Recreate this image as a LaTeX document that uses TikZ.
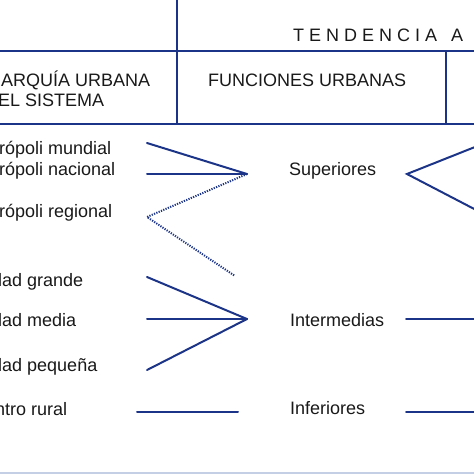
\documentclass[tikz,border=0pt]{standalone}
\usepackage{fontspec}
\setmainfont{Liberation Sans}
\definecolor{lineblue}{RGB}{28,52,135}
\definecolor{txt}{RGB}{25,25,25}
\definecolor{band}{RGB}{196,206,228}
\begin{document}
\begin{tikzpicture}[x=1pt,y=-1pt,
  lbl/.style={inner sep=0pt,anchor=base west,font=\fontsize{18}{20}\selectfont,text=txt},
  lble/.style={lbl,anchor=base east},
  rule/.style={draw=lineblue,line width=2.2pt},
  link/.style={draw=lineblue,line width=2pt,line cap=round,line join=miter},
  dotlink/.style={draw=lineblue,line width=2pt,dash pattern=on 1.2pt off 1.3pt}]
\useasboundingbox (0,0) rectangle (474,474);
\clip (0,0) rectangle (474,474);
\fill[band] (0,472) rectangle (474,474);
% table rules
\coordinate (tl) at (0,51);
\coordinate (tr) at (474,51);
\coordinate (bl) at (0,124);
\coordinate (br) at (474,124);
\coordinate (vt) at (177,0);
\coordinate (vb) at (177,124);
\coordinate (rt) at (446,51);
\coordinate (rb) at (446,124);
\draw[rule] (tl) -- (tr);
\draw[rule] (bl) -- (br);
\draw[rule] (vt) -- (vb);
\draw[rule] (rt) -- (rb);
% header texts
\node[lbl] (tend) at (293,41) {T E N D E N C I A\hspace{14pt}A};
\node[lbl] (jer) at (-33,86) {JERARQUÍA URBANA};
\node[lbl] (del) at (-15,106) {DEL SISTEMA};
\node[lbl] (fun) at (208,86) {FUNCIONES URBANAS};
% left column
\node[lbl] (mm) at (-31,154) {Metrópoli mundial};
\node[lbl] (mn) at (-31,175) {Metrópoli nacional};
\node[lbl] (mr) at (-31,217) {Metrópoli regional};
\node[lbl] (cg) at (-35,286) {Ciudad grande};
\node[lbl] (cm) at (-35,326) {Ciudad media};
\node[lbl] (cp) at (-35,371) {Ciudad pequeña};
\node[lbl] (cr) at (-28,415) {Centro rural};
% middle column
\node[lbl] (sup) at (289,175) {Superiores};
\node[lbl] (int) at (290,326) {Intermedias};
\node[lbl] (inf) at (290,414) {Inferiores};
% connector points
\coordinate (a1) at (147,143);
\coordinate (a2) at (147,174);
\coordinate (v1) at (247,174);
\coordinate (d1) at (147,217);
\coordinate (d2) at (235,276);
\coordinate (b1) at (147,277);
\coordinate (b2) at (147,319);
\coordinate (b3) at (147,370);
\coordinate (v2) at (247,319);
\coordinate (r1) at (137,412);
\coordinate (r2) at (238,412);
\coordinate (s0) at (407,174);
\coordinate (s1) at (480,145);
\coordinate (s2) at (480,212);
\coordinate (i1) at (406,319);
\coordinate (i2) at (480,319);
\coordinate (f1) at (406,412);
\coordinate (f2) at (480,412);
% connectors
\draw[link] (a1) -- (v1);
\draw[link] (a2) -- (v1);
\draw[dotlink] (v1) -- (d1) -- (d2);
\draw[link] (b1) -- (v2);
\draw[link] (b2) -- (v2);
\draw[link] (b3) -- (v2);
\draw[link] (r1) -- (r2);
\draw[link] (s1) -- (s0) -- (s2);
\draw[link] (i1) -- (i2);
\draw[link] (f1) -- (f2);
\end{tikzpicture}
\end{document}
